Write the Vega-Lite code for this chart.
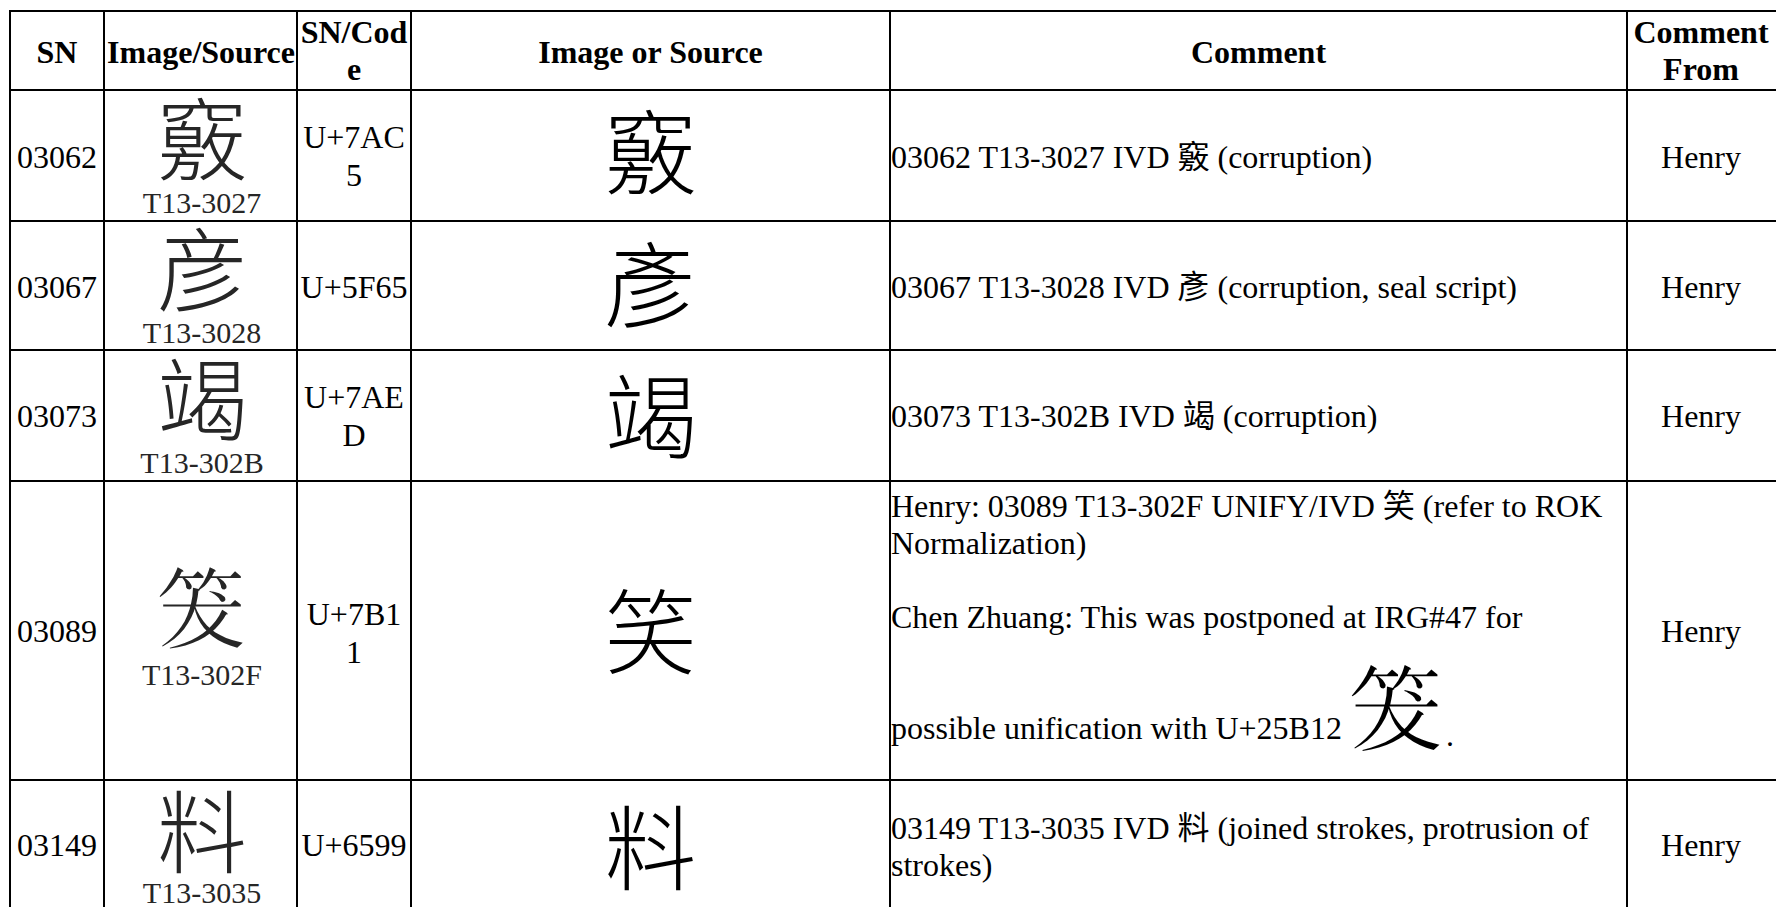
{
  "$schema": "https://vega.github.io/schema/vega-lite/v6.json",
  "width": 1776,
  "height": 907,
  "padding": 0,
  "autosize": {"type": "none"},
  "background": "white",
  "config": {"view": {"stroke": null}, "axis": {"disable": true}},
  "datasets": {
    "colBounds": [{"b": 0}, {"b": 1}, {"b": 2}, {"b": 3}, {"b": 4}, {"b": 5}, {"b": 6}],
    "rowBounds": [{"b": 0}, {"b": 1}, {"b": 2}, {"b": 3}, {"b": 4}, {"b": 5}, {"b": 6}],
    "head1": [
      {"col": 0, "row": 0, "text": "SN"},
      {"col": 1, "row": 0, "text": "Image/Source"},
      {"col": 3, "row": 0, "text": "Image or Source"},
      {"col": 4, "row": 0, "text": "Comment"}
    ],
    "head2": [
      {"col": 2, "row": 0, "text": ["SN/Cod", "e"]},
      {"col": 5, "row": 0, "text": ["Comment", "From"]}
    ],
    "body1": [
      {"col": 0, "row": 1, "text": "03062"},
      {"col": 0, "row": 2, "text": "03067"},
      {"col": 0, "row": 3, "text": "03073"},
      {"col": 0, "row": 4, "text": "03089"},
      {"col": 0, "row": 5, "text": "03149"},
      {"col": 2, "row": 2, "text": "U+5F65"},
      {"col": 2, "row": 5, "text": "U+6599"},
      {"col": 5, "row": 1, "text": "Henry"},
      {"col": 5, "row": 2, "text": "Henry"},
      {"col": 5, "row": 3, "text": "Henry"},
      {"col": 5, "row": 4, "text": "Henry"},
      {"col": 5, "row": 5, "text": "Henry"}
    ],
    "body2": [
      {"col": 2, "row": 1, "text": ["U+7AC", "5"]},
      {"col": 2, "row": 3, "text": ["U+7AE", "D"]},
      {"col": 2, "row": 4, "text": ["U+7B1", "1"]}
    ],
    "images": [
      {"col": 1, "row": 1, "glyph": "竅", "label": "T13-3027"},
      {"col": 1, "row": 2, "glyph": "彦", "label": "T13-3028"},
      {"col": 1, "row": 3, "glyph": "竭", "label": "T13-302B"},
      {"col": 1, "row": 4, "glyph": "𥬒", "label": "T13-302F"},
      {"col": 1, "row": 5, "glyph": "料", "label": "T13-3035"}
    ],
    "chars": [
      {"col": 3, "row": 1, "glyph": "竅"},
      {"col": 3, "row": 2, "glyph": "彥"},
      {"col": 3, "row": 3, "glyph": "竭"},
      {"col": 3, "row": 4, "glyph": "笑"},
      {"col": 3, "row": 5, "glyph": "料"}
    ],
    "comments": [
      {"col": 4, "row": 1, "text": ["03062 T13-3027 IVD 竅 (corruption)"]},
      {"col": 4, "row": 2, "text": ["03067 T13-3028 IVD 彥 (corruption, seal script)"]},
      {"col": 4, "row": 3, "text": ["03073 T13-302B IVD 竭 (corruption)"]},
      {"col": 4, "row": 4, "text": ["Henry: 03089 T13-302F UNIFY/IVD 笑 (refer to ROK", "Normalization)", "\u2800", "Chen Zhuang: This was postponed at IRG#47 for", "\u2800", "\u2800", "possible unification with U+25B12"]},
      {"col": 4, "row": 5, "text": ["03149 T13-3035 IVD 料 (joined strokes, protrusion of", "strokes)"]}
    ],
    "inline": [
      {"col": 4, "row": 4, "glyph": "𥬒", "tail": "."}
    ]
  },
  "resolve": {"scale": {"x": "independent", "y": "independent"}},
  "layer": [
    {
      "data": {"name": "colBounds"},
      "mark": {"type": "rule", "color": "#000", "strokeWidth": 2, "strokeCap": "square"},
      "encoding": {
        "x": {"field": "b", "type": "quantitative", "scale": {"domain": [0, 1, 2, 3, 4, 5, 6], "range": [10, 104, 297, 411, 890, 1627, 1778], "nice": false, "zero": false}},
        "y": {"datum": 0, "type": "quantitative", "scale": {"domain": [0, 1, 2, 3, 4, 5, 6], "range": [11, 90, 221, 350, 481, 780, 918], "nice": false, "zero": false}},
        "y2": {"datum": 6}
      }
    },
    {
      "data": {"name": "rowBounds"},
      "mark": {"type": "rule", "color": "#000", "strokeWidth": 2, "strokeCap": "square"},
      "encoding": {
        "y": {"field": "b", "type": "quantitative", "scale": {"domain": [0, 1, 2, 3, 4, 5, 6], "range": [11, 90, 221, 350, 481, 780, 918], "nice": false, "zero": false}},
        "x": {"datum": 0, "type": "quantitative", "scale": {"domain": [0, 1, 2, 3, 4, 5, 6], "range": [10, 104, 297, 411, 890, 1627, 1778], "nice": false, "zero": false}},
        "x2": {"datum": 6}
      }
    },
    {
      "data": {"name": "head1"},
      "mark": {"type": "text", "font": "Liberation Serif", "fontSize": 32, "fontWeight": "bold", "align": "center", "baseline": "middle", "color": "#000"},
      "encoding": {
        "x": {"field": "col", "type": "quantitative", "scale": {"domain": [0, 1, 2, 3, 4, 5], "range": [57, 201, 354, 650.5, 1258.5, 1701], "nice": false, "zero": false}},
        "y": {"field": "row", "type": "quantitative", "scale": {"domain": [0, 1], "range": [52.5, 158], "nice": false, "zero": false}},
        "text": {"field": "text", "type": "nominal"}
      }
    },
    {
      "data": {"name": "head2"},
      "mark": {"type": "text", "font": "Liberation Serif", "fontSize": 32, "fontWeight": "bold", "align": "center", "baseline": "middle", "lineHeight": 37, "color": "#000"},
      "encoding": {
        "x": {"field": "col", "type": "quantitative", "scale": {"domain": [0, 1, 2, 3, 4, 5], "range": [57, 201, 354, 650.5, 1258.5, 1701], "nice": false, "zero": false}},
        "y": {"field": "row", "type": "quantitative", "scale": {"domain": [0, 1], "range": [33, 139], "nice": false, "zero": false}},
        "text": {"field": "text", "type": "nominal"}
      }
    },
    {
      "data": {"name": "body1"},
      "mark": {"type": "text", "font": "Liberation Serif", "fontSize": 32, "align": "center", "baseline": "middle", "color": "#000"},
      "encoding": {
        "x": {"field": "col", "type": "quantitative", "scale": {"domain": [0, 1, 2, 3, 4, 5], "range": [57, 201, 354, 650.5, 1258.5, 1701], "nice": false, "zero": false}},
        "y": {"field": "row", "type": "quantitative", "scale": {"domain": [1, 2, 3, 4, 5], "range": [158, 288, 417, 632, 846], "nice": false, "zero": false}},
        "text": {"field": "text", "type": "nominal"}
      }
    },
    {
      "data": {"name": "body2"},
      "mark": {"type": "text", "font": "Liberation Serif", "fontSize": 32, "align": "center", "baseline": "middle", "lineHeight": 38, "color": "#000"},
      "encoding": {
        "x": {"field": "col", "type": "quantitative", "scale": {"domain": [0, 1, 2, 3, 4, 5], "range": [57, 201, 354, 650.5, 1258.5, 1701], "nice": false, "zero": false}},
        "y": {"field": "row", "type": "quantitative", "scale": {"domain": [1, 3, 4], "range": [138, 398, 615], "nice": false, "zero": false}},
        "text": {"field": "text", "type": "nominal"}
      }
    },
    {
      "data": {"name": "images"},
      "mark": {"type": "text", "font": "Noto Sans CJK TC", "fontSize": 90, "fontWeight": 300, "align": "center", "baseline": "middle", "color": "#262626"},
      "encoding": {
        "x": {"field": "col", "type": "quantitative", "scale": {"domain": [0, 1, 2, 3, 4, 5], "range": [57, 202, 354, 650.5, 1258.5, 1701], "nice": false, "zero": false}},
        "y": {"field": "row", "type": "quantitative", "scale": {"domain": [1, 2, 3, 4, 5], "range": [146, 277, 406, 616, 839], "nice": false, "zero": false}},
        "text": {"field": "glyph", "type": "nominal"}
      }
    },
    {
      "data": {"name": "images"},
      "mark": {"type": "text", "font": "Liberation Serif", "fontSize": 30, "align": "center", "baseline": "middle", "color": "#262626"},
      "encoding": {
        "x": {"field": "col", "type": "quantitative", "scale": {"domain": [0, 1, 2, 3, 4, 5], "range": [57, 202, 354, 650.5, 1258.5, 1701], "nice": false, "zero": false}},
        "y": {"field": "row", "type": "quantitative", "scale": {"domain": [1, 2, 3, 4, 5], "range": [204, 334, 464, 676, 894], "nice": false, "zero": false}},
        "text": {"field": "label", "type": "nominal"}
      }
    },
    {
      "data": {"name": "chars"},
      "mark": {"type": "text", "font": "Noto Sans CJK TC", "fontSize": 92, "fontWeight": 300, "align": "center", "baseline": "middle", "color": "#000"},
      "encoding": {
        "x": {"field": "col", "type": "quantitative", "scale": {"domain": [0, 1, 2, 3, 4, 5], "range": [57, 201, 354, 650.5, 1258.5, 1701], "nice": false, "zero": false}},
        "y": {"field": "row", "type": "quantitative", "scale": {"domain": [1, 2, 3, 4, 5], "range": [159, 292, 423, 639, 855], "nice": false, "zero": false}},
        "text": {"field": "glyph", "type": "nominal"}
      }
    },
    {
      "data": {"name": "comments"},
      "mark": {"type": "text", "font": "Liberation Serif, Noto Sans CJK TC", "fontSize": 32, "align": "left", "baseline": "middle", "lineHeight": 37, "color": "#000"},
      "encoding": {
        "x": {"field": "col", "type": "quantitative", "scale": {"domain": [0, 1, 2, 3, 4, 5], "range": [18, 112, 305, 419, 891, 1635], "nice": false, "zero": false}},
        "y": {"field": "row", "type": "quantitative", "scale": {"domain": [1, 2, 3, 4, 5], "range": [158, 288, 417, 507, 829], "nice": false, "zero": false}},
        "text": {"field": "text", "type": "nominal"}
      }
    },
    {
      "data": {"name": "inline"},
      "mark": {"type": "text", "font": "Noto Sans CJK TC", "fontSize": 95, "fontWeight": 300, "align": "left", "baseline": "middle", "dx": 458, "dy": 209, "color": "#000"},
      "encoding": {
        "x": {"field": "col", "type": "quantitative", "scale": {"domain": [0, 1, 2, 3, 4, 5], "range": [18, 112, 305, 419, 891, 1635], "nice": false, "zero": false}},
        "y": {"field": "row", "type": "quantitative", "scale": {"domain": [1, 2, 3, 4, 5], "range": [158, 288, 417, 507, 829], "nice": false, "zero": false}},
        "text": {"field": "glyph", "type": "nominal"}
      }
    },
    {
      "data": {"name": "inline"},
      "mark": {"type": "text", "font": "Liberation Serif", "fontSize": 32, "align": "left", "baseline": "middle", "dx": 555, "dy": 229, "color": "#000"},
      "encoding": {
        "x": {"field": "col", "type": "quantitative", "scale": {"domain": [0, 1, 2, 3, 4, 5], "range": [18, 112, 305, 419, 891, 1635], "nice": false, "zero": false}},
        "y": {"field": "row", "type": "quantitative", "scale": {"domain": [1, 2, 3, 4, 5], "range": [158, 288, 417, 507, 829], "nice": false, "zero": false}},
        "text": {"field": "tail", "type": "nominal"}
      }
    }
  ]
}
